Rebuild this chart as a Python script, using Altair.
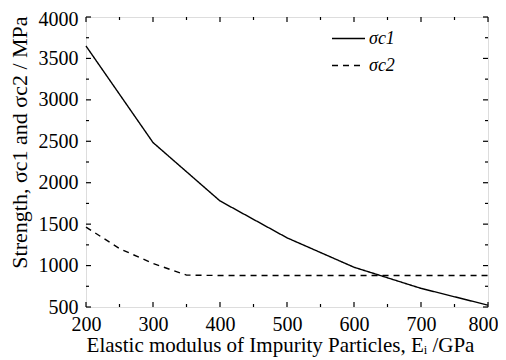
import altair as alt
import pandas as pd

modulus = [200, 300, 400, 500, 600, 700, 800]
sigma_c1 = [3650, 2485, 1780, 1335, 980, 725, 522]
modulus2 = [200, 250, 300, 350, 400, 500, 600, 700, 800]
sigma_c2 = [1465, 1205, 1025, 885, 880, 880, 880, 880, 880]

x_major = [200, 300, 400, 500, 600, 700, 800]
x_minor = [250, 350, 450, 550, 650, 750]
y_major = [500, 1000, 1500, 2000, 2500, 3000, 3500, 4000]
y_minor = [750, 1250, 1750, 2250, 2750, 3250, 3750]

W, H = 402, 290
FONT = "Liberation Serif"

rows = [{"E": e, "s": v, "series": "σc1"} for e, v in zip(modulus, sigma_c1)]
rows += [{"E": e, "s": v, "series": "σc2"} for e, v in zip(modulus2, sigma_c2)]
df = pd.DataFrame(rows)

xs = alt.Scale(domain=[200, 800], nice=False)
ys = alt.Scale(domain=[500, 4000], nice=False)

lines = alt.Chart(df).mark_line(color="black", strokeWidth=1.4).encode(
    x=alt.X("E:Q", scale=xs,
            axis=alt.Axis(values=x_major, format="d", tickSize=0, domain=False, grid=False,
                          labelFlush=False, labelPadding=7,
                          labelAlign={"condition": {"test": "datum.value == 800", "value": "right"}, "value": "center"},
                          labelOffset={"condition": {"test": "datum.value == 800", "value": 10}, "value": 0},
                          labelFont=FONT, labelFontSize=20, labelColor="black",
                          title="Elastic modulus of Impurity Particles, Eᵢ /GPa",
                          titleFont=FONT, titleFontSize=21, titleFontWeight="normal",
                          titleColor="black", titleX=194, titleY=38,
                          titleBaseline="middle", titleAlign="center")),
    y=alt.Y("s:Q", scale=ys,
            axis=alt.Axis(values=y_major, format="d", tickSize=0, domain=False, grid=False,
                          labelFlush=False, labelPadding=8,
                          labelOffset={"condition": {"test": "datum.value == 4000", "value": 2}, "value": 0},
                          labelFont=FONT, labelFontSize=20, labelColor="black",
                          title="Strength, σc1 and σc2 / MPa",
                          titleFont=FONT, titleFontSize=22, titleFontWeight="normal",
                          titleColor="black", titleX=-67, titleY=125,
                          titleBaseline="middle", titleAlign="center", titleAngle=270)),
    strokeDash=alt.StrokeDash("series:N",
        scale=alt.Scale(domain=["σc1", "σc2"], range=[[1, 0], [6, 5]]),
        legend=alt.Legend(title=None, orient="none", legendX=245, legendY=4,
                          symbolType="stroke", symbolSize=1089, symbolStrokeWidth=1.4,
                          symbolStrokeColor="black",
                          labelFont=FONT, labelFontSize=18, labelFontStyle="italic",
                          labelColor="black", rowPadding=0, labelOffset=3)),
)

xmaj = pd.DataFrame({"v": x_major})
xmin = pd.DataFrame({"v": x_minor})
ymaj = pd.DataFrame({"v": y_major})
ymin = pd.DataFrame({"v": y_minor})

def xt(d, y1, y2):
    return alt.Chart(d).mark_rule(color="black", strokeWidth=1.2).encode(
        x=alt.X("v:Q", scale=xs), y=alt.value(y1), y2=alt.value(y2))

def yt(d, x1, x2):
    return alt.Chart(d).mark_rule(color="black", strokeWidth=1.2).encode(
        y=alt.Y("v:Q", scale=ys), x=alt.value(x1), x2=alt.value(x2))

ticks = [
    xt(xmaj, H, H - 5), xt(xmin, H, H - 3), xt(xmaj, 0, 5), xt(xmin, 0, 3),
    yt(ymaj, 0, 5), yt(ymin, 0, 3), yt(ymaj, W, W - 5), yt(ymin, W, W - 3),
]

chart = alt.layer(lines, *ticks).properties(
    width=W, height=H,
    autosize=alt.AutoSizeParams(type="none"),
    padding={"left": 78, "top": 9, "right": 10, "bottom": 50},
).configure_view(stroke="black", strokeWidth=1.5).configure(
    background="white"
)

chart.save("out.html", embed_options={"renderer": "svg", "actions": False})
